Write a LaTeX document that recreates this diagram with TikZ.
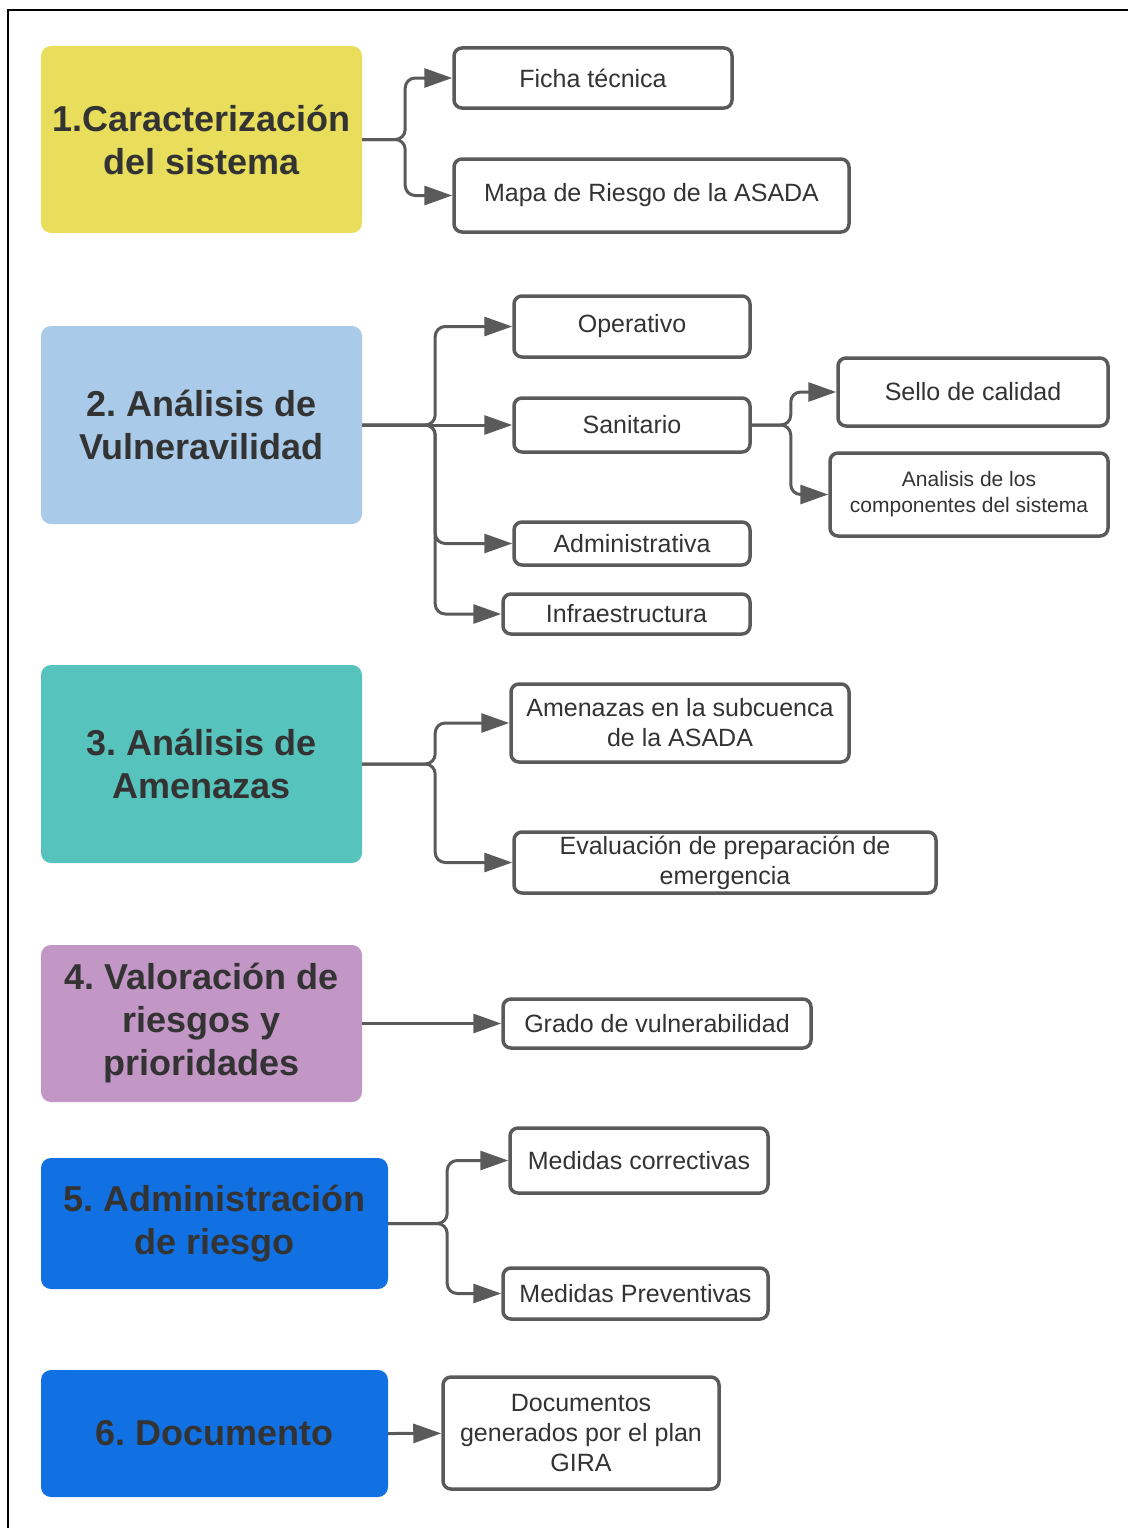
\documentclass[tikz,border=0pt]{standalone}
\usepackage{fontspec}
\setmainfont{Liberation Sans}
\usepackage{tikz}
\usetikzlibrary{arrows.meta}
\definecolor{cyellow}{RGB}{232,222,92}
\definecolor{clblue}{RGB}{169,203,233}
\definecolor{cteal}{RGB}{87,195,189}
\definecolor{cpurple}{RGB}{194,150,197}
\definecolor{cblue}{RGB}{18,113,226}
\definecolor{cline}{RGB}{90,90,90}
\definecolor{ctext}{RGB}{51,51,51}
\frenchspacing

\begin{document}
\begin{tikzpicture}[x=1pt, y=-1pt,
  stage/.style={rounded corners=10pt, align=center, inner sep=0pt, text=ctext,
    font=\fontsize{36}{43}\selectfont\bfseries},
  item/.style={draw=cline, line width=3.5pt, rounded corners=8pt, fill=white,
    align=center, inner sep=0pt, text=ctext, font=\fontsize{25}{30}\selectfont},
  link/.style={draw=cline, line width=3pt, rounded corners=10pt,
    -{Triangle[length=28pt,width=19pt]}}]
\useasboundingbox (0,0) rectangle (1128,1528);
\draw[line width=2pt] (8,1528) -- (8,10) -- (1128,10);

\node (car) [stage, fill=cyellow, minimum width=321pt, minimum height=187pt] at (201.5,139.5) {1.Caracterización\\del sistema};
\node (vul) [stage, fill=clblue, minimum width=321pt, minimum height=198pt] at (201.5,425) {2. Análisis de\\Vulneravilidad};
\node (ame) [stage, fill=cteal, minimum width=321pt, minimum height=198pt] at (201.5,764) {3. Análisis de\\Amenazas};
\node (val) [stage, fill=cpurple, minimum width=321pt, minimum height=157pt] at (201.5,1023.5) {4. Valoración de\\riesgos y\\prioridades};
\node (adm) [stage, fill=cblue, minimum width=347pt, minimum height=131pt] at (214.5,1223.5) {5. Administración\\de riesgo};
\node (doc) [stage, fill=cblue, minimum width=347pt, minimum height=127pt] at (214.5,1433.5) {6. Documento};

\node (ficha) [item, minimum width=278pt, minimum height=60pt] at (593,78) {Ficha técnica};
\node (mapa) [item, minimum width=395pt, minimum height=73pt] at (651.5,195.5) {Mapa de Riesgo de la ASADA};
\node (oper) [item, minimum width=236pt, minimum height=61pt] at (632,326.5) {Operativo};
\node (sani) [item, minimum width=236pt, minimum height=54pt] at (632,425) {Sanitario};
\node (sello) [item, minimum width=270pt, minimum height=68pt] at (973,392) {Sello de calidad};
\node (anal) [item, minimum width=278pt, minimum height=83pt, font=\fontsize{21}{26}\selectfont] at (969,494.5) {Analisis de los\\componentes del sistema};
\node (admv) [item, minimum width=236pt, minimum height=43pt] at (632,543.5) {Administrativa};
\node (infra) [item, minimum width=247pt, minimum height=40pt] at (626.5,614) {Infraestructura};
\node (amen) [item, minimum width=338pt, minimum height=78pt] at (680,723) {Amenazas en la subcuenca\\de la ASADA};
\node (eval) [item, minimum width=422pt, minimum height=61pt] at (725,862.5) {Evaluación de preparación de\\emergencia};
\node (grado) [item, minimum width=308pt, minimum height=49pt] at (657,1023.5) {Grado de vulnerabilidad};
\node (corr) [item, minimum width=258pt, minimum height=65pt] at (639,1160.5) {Medidas correctivas};
\node (prev) [item, minimum width=265pt, minimum height=51pt] at (635.5,1293.5) {Medidas Preventivas};
\node (docs) [item, minimum width=276pt, minimum height=112pt] at (581,1433) {Documentos\\generados por el plan\\GIRA};

\draw[link] (car.east) -- ++(43,0) |- (ficha);
\draw[link] (car.east) -- ++(43,0) |- (mapa);
\draw[link] (vul.east) -- ++(73,0) |- (oper);
\draw[link] (vul.east) -- (sani);
\draw[link] (vul.east) -- ++(73,0) |- (admv);
\draw[link] (vul.east) -- ++(73,0) |- (infra);
\draw[link] (sani.east) -- ++(39,0) |- (sello);
\draw[link] (sani.east) -- ++(39,0) |- (anal);
\draw[link] (ame.east) -- ++(73,0) |- (amen);
\draw[link] (ame.east) -- ++(73,0) |- (eval);
\draw[link] (val.east) -- (grado);
\draw[link] (adm.east) -- ++(59,0) |- (corr);
\draw[link] (adm.east) -- ++(59,0) |- (prev);
\draw[link] (doc.east) -- (docs);
\end{tikzpicture}
\end{document}
